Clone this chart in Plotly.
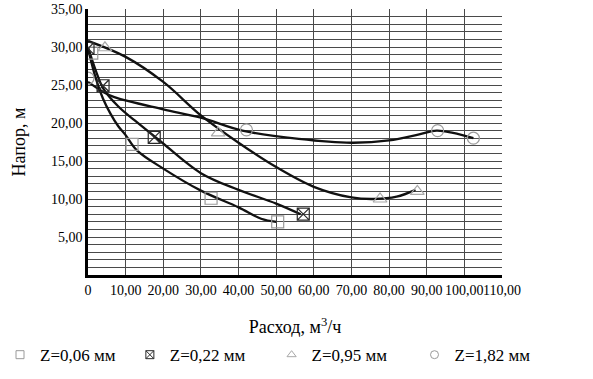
import plotly.graph_objects as go

# ---- data ----
# measured points (markers)
z006_x = [1.0, 11.7, 32.7, 50.4]
z006_y = [29.2, 17.2, 10.1, 7.0]
z022_x = [0.0, 4.0, 17.6, 57.2]
z022_y = [29.8, 24.9, 18.1, 8.0]
z095_x = [4.5, 34.6, 77.6, 87.5]
z095_y = [29.9, 18.7, 10.0, 11.0]
z182_x = [0.0, 42.1, 92.9, 102.4]
z182_y = [25.9, 19.1, 19.0, 18.0]

# smoothed trend curves
c006_x = [0, 2, 4, 6, 8, 10, 13, 20, 30, 40, 46, 50]
c006_y = [29.8, 26.0, 23.2, 21.2, 19.6, 18.4, 16.4, 14.0, 11.1, 8.9, 7.4, 7.0]
c022_x = [0, 2, 4, 8, 12.5, 19, 30, 40, 50, 56.5]
c022_y = [30.0, 27.0, 24.6, 22.2, 20.3, 17.7, 13.4, 11.2, 9.4, 8.0]
c095_x = [0, 10, 20, 30, 40, 50, 60, 70, 76, 82, 87]
c095_y = [30.8, 28.7, 25.4, 21.0, 17.4, 14.2, 11.6, 10.2, 10.0, 10.3, 11.2]
c182_x = [0, 4, 7, 20, 30, 41, 56, 70, 80, 88, 92.6, 97, 102.4]
c182_y = [25.4, 24.1, 23.4, 21.8, 20.7, 19.0, 17.9, 17.4, 17.7, 18.5, 19.0, 18.7, 18.0]

x_ticks = [0, 10, 20, 30, 40, 50, 60, 70, 80, 90, 100, 110]
x_labels = ["0", "10,00", "20,00", "30,00", "40,00", "50,00", "60,00",
            "70,00", "80,00", "90,00", "100,00", "110,00"]
y_ticks = [5, 10, 15, 20, 25, 30, 35]
y_labels = ["5,00", "10,00", "15,00", "20,00", "25,00", "30,00", "35,00"]

names = ["Z=0,06 мм", "Z=0,22 мм", "Z=0,95 мм", "Z=1,82 мм"]
symbols = ["square-open", "square-x-open", "triangle-up-open", "circle-open"]
mcolors = ["#9a9a9a", "#2a2a2a", "#a8a8a8", "#9a9a9a"]

FONT = "Liberation Serif"

fig = go.Figure()

curves = [(c006_x, c006_y), (c022_x, c022_y), (c095_x, c095_y), (c182_x, c182_y)]
for cx, cy in curves:
    fig.add_trace(go.Scatter(x=cx, y=cy, mode="lines", showlegend=False,
                             line=dict(color="#111111", width=2.3, shape="spline", smoothing=1.0),
                             hoverinfo="skip"))

points = [(z006_x, z006_y), (z022_x, z022_y), (z095_x, z095_y), (z182_x, z182_y)]
for (px, py), sym, col in zip(points, symbols, mcolors):
    fig.add_trace(go.Scatter(x=px, y=py, mode="markers", showlegend=False,
                             marker=dict(symbol=sym, size=12, color=col, line=dict(width=1.2, color=col))))

# legend entries (one small legend per series, laid out in a row)
legend_ids = ["legend", "legend2", "legend3", "legend4"]
for name, sym, col, lid in zip(names, symbols, mcolors, legend_ids):
    fig.add_trace(go.Scatter(x=[None], y=[None], mode="markers", name=name, legend=lid,
                             marker=dict(symbol=sym, size=8, color=col, line=dict(width=1, color=col))))

legend_x = [0.0, 0.219, 0.458, 0.699]
legend_layout = {}
for lid, lx in zip(legend_ids, legend_x):
    legend_layout[lid] = dict(orientation="h", xref="container", yref="container",
                              x=lx, xanchor="left", y=0.063, yanchor="middle",
                              font=dict(family=FONT, size=17, color="black"),
                              itemwidth=30, bgcolor="rgba(0,0,0,0)")

grid_col = "#4a4a4a"
fig.update_layout(
    width=593, height=379,
    margin=dict(l=88, r=91, t=9, b=104, autoexpand=False),
    paper_bgcolor="white", plot_bgcolor="white",
    font=dict(family=FONT, size=14, color="black"),
    showlegend=True,
    **legend_layout,
    xaxis=dict(range=[0, 110], tickvals=x_ticks, ticktext=x_labels, tickangle=0,
               showgrid=True, gridcolor=grid_col, gridwidth=1,
               showline=True, linecolor="black", linewidth=3,
               ticks="", zeroline=False,
               tickfont=dict(family=FONT, size=14),
               title=dict(text="Расход, м<sup>3</sup>/ч", font=dict(family=FONT, size=18), standoff=27)),
    yaxis=dict(range=[0, 35], tickvals=y_ticks, ticktext=y_labels,
               showgrid=True, gridcolor=grid_col, gridwidth=1,
               minor=dict(dtick=1, tick0=0, showgrid=True, gridcolor=grid_col, gridwidth=1),
               showline=True, linecolor="black", linewidth=2.5,
               ticks="", zeroline=False,
               tickfont=dict(family=FONT, size=14),
               title=dict(text="Напор, м", font=dict(family=FONT, size=18), standoff=21)),
)

fig.write_html("out.html", config={"displayModeBar": False},
               post_script="document.body.style.margin='0px';")
